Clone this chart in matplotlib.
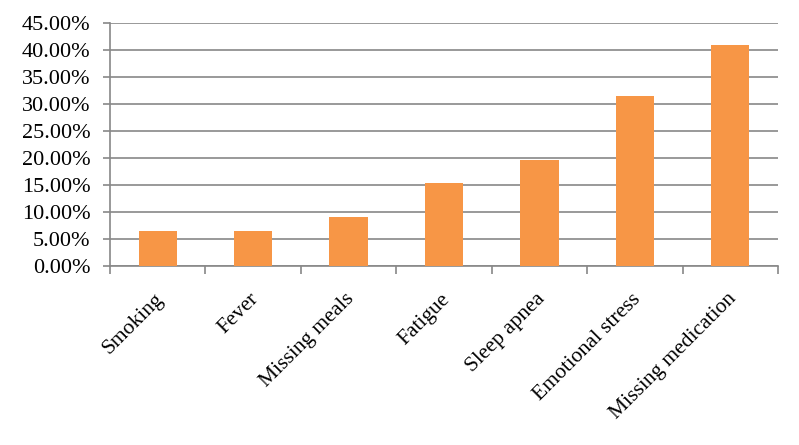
import matplotlib.pyplot as plt
from matplotlib.ticker import FuncFormatter, MultipleLocator
import numpy as np

categories = ["Smoking", "Fever", "Missing meals", "Fatigue",
              "Sleep apnea", "Emotional stress", "Missing medication"]
values = [6.4, 6.4, 9.1, 15.4, 19.7, 31.4, 41.0]

plt.rcParams['font.family'] = ['Liberation Serif', 'DejaVu Serif']

fig = plt.figure(figsize=(7.99, 4.45), dpi=100)
ax = fig.add_axes([110 / 799, 1 - 266 / 445, 668 / 799, 243 / 445])

x = np.arange(len(categories))
ax.bar(x, values, width=0.4, color="#F79646", zorder=3)

ax.set_xlim(-0.5, len(categories) - 0.5)
ax.set_ylim(0, 45)
ax.yaxis.set_major_locator(MultipleLocator(5))
ax.yaxis.set_major_formatter(FuncFormatter(lambda v, p: f"{v:.2f}%"))
ax.grid(axis="y", color="#888888", linewidth=1.2, zorder=0)

for s in ["top", "right"]:
    ax.spines[s].set_visible(False)
ax.spines["left"].set_color("#888888")
ax.spines["bottom"].set_color("#888888")
ax.spines["left"].set_linewidth(1.2)
ax.spines["bottom"].set_linewidth(1.2)

# category boundary ticks on x axis
ax.set_xticks(np.arange(-0.5, len(categories), 1.0))
ax.set_xticklabels([])
ax.tick_params(axis="x", length=6, color="#888888", width=1.2)
ax.tick_params(axis="y", length=5, color="#888888", width=1.2,
               labelsize=16, pad=9)

for i, c in enumerate(categories):
    ax.text(i - 0.04, -4.4, c, rotation=45, ha="right", va="top",
            rotation_mode="anchor", fontsize=15.5)

fig.savefig("out.png", dpi=100)
